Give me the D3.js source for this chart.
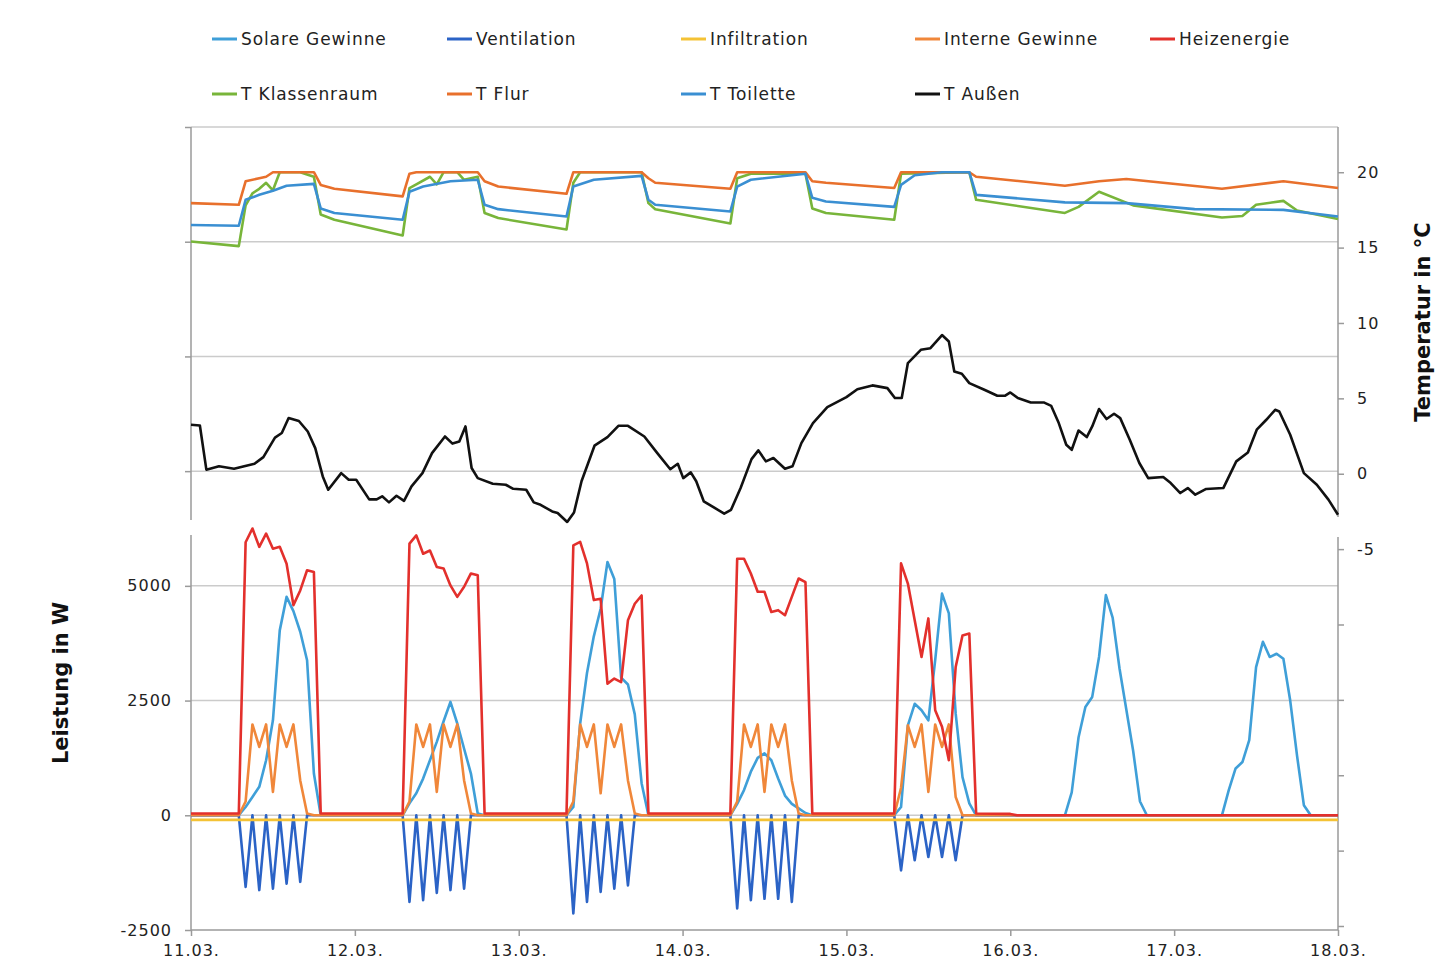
<!DOCTYPE html>
<html>
<head>
<meta charset="utf-8">
<script src="https://cdn.jsdelivr.net/npm/d3@7"></script>
<style>
  body { margin: 0; background: #fff; }
  text { font-family: "DejaVu Sans", Verdana, sans-serif; }
</style>
</head>
<body>
<svg width="1444" height="970"></svg>
<script>
// x axis: hours since 11.03. 00:00
const dayLabels = ["11.03.", "12.03.", "13.03.", "14.03.", "15.03.", "16.03.", "17.03.", "18.03."];
const dayTicks = [0, 24, 48, 72, 96, 120, 144, 168];

const powerTicks = [-2500, 0, 2500, 5000, 7500, 10000, 12500, 15000];
const tempTicks = [-30, -25, -20, -15, -10, -5, 0, 5, 10, 15, 20];

// power series in W, [hour, value]
const solare = [[0,0],[7,0],[8,180],[9,400],[10,620],[11,1200],[12,2070],[13,4030],[14,4760],[15,4450],[16,4000],[17,3380],[18,910],[19,0],
  [31,0],[32,260],[33,480],[34,800],[35,1200],[36,1600],[37,2050],[38,2470],[39,2000],[40,1450],[41,910],[42,40],[43,0],
  [55,0],[56,180],[57,2000],[58,3100],[59,3900],[60,4500],[61,5520],[62,5150],[63,3000],[64,2850],[65,2200],[66,700],[67,0],
  [79,0],[80,250],[81,550],[82,950],[83,1250],[84,1350],[85,1200],[86,800],[87,430],[88,250],[89,150],[90,50],[91,0],
  [103,0],[104,180],[105,1960],[106,2430],[107,2290],[108,2070],[109,3380],[110,4830],[111,4400],[112,2220],[113,830],[114,260],[115,0],
  [128,0],[129,500],[130,1700],[131,2360],[132,2580],[133,3450],[134,4800],[135,4300],[136,3200],[137,2300],[138,1400],[139,300],[140,0],
  [151,0],[152,550],[153,1020],[154,1160],[155,1640],[156,3230],[157,3780],[158,3450],[159,3520],[160,3410],[161,2500],[162,1300],[163,220],[164,0],[168,0]];

const ventilation = [[0,0],[7,0],[8,-1560],[9,0],[10,-1630],[11,0],[12,-1600],[13,0],[14,-1490],[15,0],[16,-1450],[17,0],
  [31,0],[32,-1890],[33,0],[34,-1850],[35,0],[36,-1690],[37,0],[38,-1630],[39,0],[40,-1600],[41,0],
  [55,0],[56,-2140],[57,0],[58,-1890],[59,0],[60,-1670],[61,0],[62,-1600],[63,0],[64,-1530],[65,0],
  [79,0],[80,-2030],[81,0],[82,-1850],[83,0],[84,-1820],[85,0],[86,-1820],[87,0],[88,-1890],[89,0],
  [103,0],[104,-1200],[105,0],[106,-980],[107,0],[108,-910],[109,0],[110,-910],[111,0],[112,-980],[113,0],[168,0]];

const infiltration = [[0,-100],[24,-100],[48,-100],[72,-100],[96,-100],[120,-100],[144,-100],[168,-100]];

const interne = [[0,0],[7,0],[8,300],[9,1980],[10,1490],[11,1980],[12,510],[13,1980],[14,1490],[15,1980],[16,760],[17,40],[18,0],
  [31,0],[32,300],[33,1980],[34,1490],[35,1980],[36,510],[37,1980],[38,1490],[39,1980],[40,760],[41,40],[42,0],
  [55,0],[56,300],[57,1980],[58,1490],[59,1980],[60,480],[61,1980],[62,1490],[63,1980],[64,760],[65,40],[66,0],
  [79,0],[80,300],[81,1980],[82,1490],[83,1980],[84,510],[85,1980],[86,1490],[87,1980],[88,760],[89,40],[90,0],
  [103,0],[104,600],[105,1960],[106,1490],[107,1980],[108,510],[109,1980],[110,1490],[111,1980],[112,400],[113,0],[168,0]];

const heizung = [[0,40],[7,40],[8,5950],[9,6250],[10,5850],[11,6140],[12,5810],[13,5850],[14,5480],[15,4580],[16,4900],[17,5340],[18,5300],[19,40],
  [31,40],[32,5920],[33,6100],[34,5700],[35,5770],[36,5410],[37,5380],[38,5010],[39,4760],[40,4980],[41,5270],[42,5230],[43,40],
  [55,40],[56,5880],[57,5960],[58,5490],[59,4690],[60,4720],[61,2870],[62,2980],[63,2900],[64,4250],[65,4610],[66,4790],[67,40],
  [79,40],[80,5590],[81,5590],[82,5270],[83,4870],[84,4870],[85,4430],[86,4470],[87,4360],[88,4760],[89,5160],[90,5080],[91,40],
  [103,40],[104,5490],[105,5050],[106,4250],[107,3450],[108,4290],[109,2290],[110,1930],[111,1200],[112,3230],[113,3920],[114,3960],[115,40],
  [120,30],[121,0],[168,0]];

// temperature series in °C, [hour, value]
const tKlasse = [[0,15.4],[7,15.1],[8,17.8],[9,18.6],[10,18.9],[11,19.3],[12,18.8],[13,20.0],[16,20.0],[18,19.7],[19,17.2],[21,16.85],[31,15.8],
  [32,18.95],[33,19.2],[35,19.7],[36,19.2],[37,20.0],[39,20.0],[40,19.5],[42,19.7],[43,17.3],[45,16.96],[55,16.2],
  [56,19.3],[57,20.0],[66,20.0],[67,17.95],[68,17.55],[79,16.6],
  [80,19.6],[82,19.9],[90,19.9],[91,17.6],[93,17.3],[103,16.85],
  [104,19.9],[114,20.0],[115,18.17],[128,17.3],[130,17.7],[133,18.7],[138,17.8],[151,17.0],[154,17.1],[156,17.84],[160,18.1],[162,17.46],[168,16.9]];

const tFlur = [[0,17.95],[7,17.84],[8,19.4],[10,19.6],[11,19.7],[12,20.0],[18,20.0],[19,19.16],[21,18.9],[31,18.4],
  [32,19.9],[33,20.0],[42,20.0],[43,19.4],[45,19.05],[55,18.57],[56,20.0],[66,20.0],[67,19.6],[68,19.3],[79,18.9],
  [80,20.0],[90,20.0],[91,19.4],[93,19.3],[103,18.95],[104,20.0],[114,20.0],[115,19.7],[128,19.1],[133,19.4],[137,19.55],
  [151,18.9],[160,19.4],[168,18.95]];

const tToilette = [[0,16.5],[7,16.45],[8,18.17],[10,18.5],[12,18.77],[14,19.1],[18,19.23],[19,17.6],[21,17.3],[31,16.85],
  [32,18.7],[34,19.05],[38,19.4],[42,19.5],[43,17.84],[45,17.55],[55,17.06],[56,19.05],[59,19.5],[66,19.76],[67,18.17],[68,17.84],[79,17.4],
  [80,19.05],[82,19.5],[90,19.9],[91,18.3],[93,18.06],[103,17.7],[104,19.16],[106,19.8],[110,20.0],[114,20.0],[115,18.5],
  [128,18.0],[137,17.95],[147,17.55],[160,17.5],[168,17.06]];

const tAussen = [[0,3.25],[1.3,3.2],[2.25,0.27],[4.1,0.5],[6.3,0.33],[9.3,0.66],[10.6,1.1],[12.3,2.4],[13.3,2.7],[14.3,3.7],[15.8,3.5],
  [17.1,2.8],[18.2,1.7],[19.3,-0.18],[20.1,-1.06],[22,0.04],[23.1,-0.4],[24.2,-0.4],[26.1,-1.7],[27.2,-1.7],[28,-1.5],[29,-1.9],
  [30.1,-1.46],[31.2,-1.8],[32.3,-0.84],[33.9,0.04],[35.3,1.37],[37.2,2.47],[38.3,2.0],[39.3,2.14],[40.2,3.14],[41.1,0.38],[42,-0.29],
  [44.2,-0.66],[46.1,-0.73],[47.2,-1.0],[49.1,-1.06],[50.2,-1.9],[51.2,-2.06],[52.9,-2.5],[53.7,-2.6],[55.1,-3.2],[56.1,-2.57],
  [57.2,-0.5],[59.1,1.86],[61,2.43],[62.6,3.18],[64,3.18],[66.4,2.47],[68.3,1.37],[70.2,0.3],[71.3,0.66],[72.1,-0.29],[73.2,0.09],
  [74,-0.5],[75.1,-1.83],[76.7,-2.27],[78.1,-2.65],[79.1,-2.39],[80.5,-0.95],[82.1,0.97],[83.1,1.55],[84.2,0.82],[85.3,1.04],
  [87,0.33],[88.1,0.49],[89.4,2.03],[91.1,3.36],[93.2,4.42],[96,5.08],[97.6,5.6],[99.8,5.86],[102,5.68],[103.1,5.02],[104.1,5.02],
  [105,7.34],[106.9,8.22],[108.3,8.33],[110,9.2],[111,8.77],[111.8,6.78],[112.9,6.63],[114,6.01],[116.2,5.57],[118.1,5.17],
  [119.2,5.17],[120,5.39],[121.1,5.02],[123,4.73],[124.9,4.73],[126,4.5],[127.1,3.36],[128.2,1.92],[129,1.59],[130,2.87],
  [131.2,2.43],[132,3.14],[133,4.29],[134.1,3.63],[135.2,3.98],[136.1,3.69],[137.5,2.25],[138.9,0.71],[140.2,-0.29],[142.4,-0.22],
  [143.5,-0.62],[144.9,-1.28],[146,-0.95],[147.1,-1.39],[148.7,-1.01],[151.2,-0.95],[153.1,0.82],[154.8,1.41],[156.1,2.92],
  [157.5,3.58],[158.8,4.24],[159.4,4.13],[161,2.59],[163,0.04],[164.9,-0.73],[166.6,-1.72],[168,-2.72]];

const svg = d3.select('svg');
const plotL = 191, plotR = 1338, plotT = 127, plotB = 930;

const x = d3.scaleLinear().domain([0, 168]).range([plotL, plotR]);
const yP = d3.scaleLinear().domain([-2500, 15000]).range([plotB, plotT]);
const yT = d3.scaleLinear().domain([-30, 23]).range([926, plotT]);

svg.append('rect').attr('width', 1444).attr('height', 970).attr('fill', '#fff');

// gridlines from the power axis
svg.append('g').selectAll('line')
  .data(powerTicks.filter(d => d > -2500))
  .enter().append('line')
  .attr('x1', plotL).attr('x2', plotR)
  .attr('y1', d => yP(d)).attr('y2', d => yP(d))
  .attr('stroke', '#cbcbcb').attr('stroke-width', 1.5);

// axes
const axisColor = '#9a9a9a';
const gl = svg.append('g').attr('transform', `translate(${plotL},0)`)
  .call(d3.axisLeft(yP).tickValues(powerTicks).tickSize(6).tickPadding(13)
    .tickFormat(d => d <= 5000 ? d : ''));
const gr = svg.append('g').attr('transform', `translate(${plotR},0)`)
  .call(d3.axisRight(yT).tickValues(tempTicks).tickSize(6).tickPadding(13)
    .tickFormat(d => d >= -5 ? d : ''));
const gb = svg.append('g').attr('transform', `translate(0,${plotB})`)
  .call(d3.axisBottom(x).tickValues(dayTicks).tickSize(6).tickPadding(9)
    .tickFormat((d, i) => dayLabels[i]));

[gl, gr, gb].forEach(g => {
  g.select('.domain').remove();
  g.selectAll('line').attr('stroke', axisColor).attr('stroke-width', 1.5);
  g.selectAll('text').attr('font-size', 16).attr('fill', '#222')
    .attr('letter-spacing', 1).style('font-family', '"DejaVu Sans", Verdana, sans-serif');
});

// axis lines with the break between the two panels
const axisSegs = [[plotL, plotT, plotL, 520], [plotL, 535, plotL, plotB],
  [plotR, plotT, plotR, 517], [plotR, 537, plotR, plotB], [plotL, plotB, plotR, plotB]];
svg.append('g').selectAll('line').data(axisSegs).enter().append('line')
  .attr('x1', d => d[0]).attr('y1', d => d[1]).attr('x2', d => d[2]).attr('y2', d => d[3])
  .attr('stroke', axisColor).attr('stroke-width', 1.5);

// axis titles
svg.append('text')
  .attr('transform', 'translate(68,683) rotate(-90)')
  .attr('text-anchor', 'middle').attr('font-size', 21).attr('font-weight', 'bold').attr('fill', '#111')
  .text('Leistung in W');
svg.append('text')
  .attr('transform', 'translate(1430,322) rotate(-90)')
  .attr('text-anchor', 'middle').attr('font-size', 21).attr('font-weight', 'bold').attr('fill', '#111')
  .text('Temperatur in °C');

// series
const series = [
  { name: 'Solare Gewinne', data: solare, y: yP, color: '#3f9fd8' },
  { name: 'Ventilation', data: ventilation, y: yP, color: '#2b63c6' },
  { name: 'Infiltration', data: infiltration, y: yP, color: '#f4c235' },
  { name: 'Interne Gewinne', data: interne, y: yP, color: '#f0873a' },
  { name: 'Heizenergie', data: heizung, y: yP, color: '#e3302c' },
  { name: 'T Klassenraum', data: tKlasse, y: yT, color: '#78b53a' },
  { name: 'T Flur', data: tFlur, y: yT, color: '#e8702c' },
  { name: 'T Toilette', data: tToilette, y: yT, color: '#3a8fd2' },
  { name: 'T Außen', data: tAussen, y: yT, color: '#111111' }
];

const plot = svg.append('g');
series.forEach(s => {
  const line = d3.line().x(d => x(d[0])).y(d => s.y(d[1]));
  plot.append('path')
    .datum(s.data)
    .attr('d', line)
    .attr('fill', 'none')
    .attr('stroke', s.color)
    .attr('stroke-width', 2.6)
    .attr('stroke-linejoin', 'round');
});

// legend, two rows
const colX = [212, 447, 681, 915, 1150];
const rowY = [39, 94];
const lg = svg.append('g').selectAll('g')
  .data(series)
  .enter().append('g')
  .attr('transform', (d, i) => i < 5
    ? `translate(${colX[i]},${rowY[0]})`
    : `translate(${colX[i - 5]},${rowY[1]})`);
lg.append('line').attr('x1', 0).attr('x2', 25).attr('y1', 0).attr('y2', 0)
  .attr('stroke', d => d.color).attr('stroke-width', 3);
lg.append('text').attr('x', 29).attr('y', 0).attr('dy', '0.36em')
  .attr('font-size', 17).attr('letter-spacing', 0.9).attr('fill', '#222')
  .text(d => d.name);
</script>
</body>
</html>
